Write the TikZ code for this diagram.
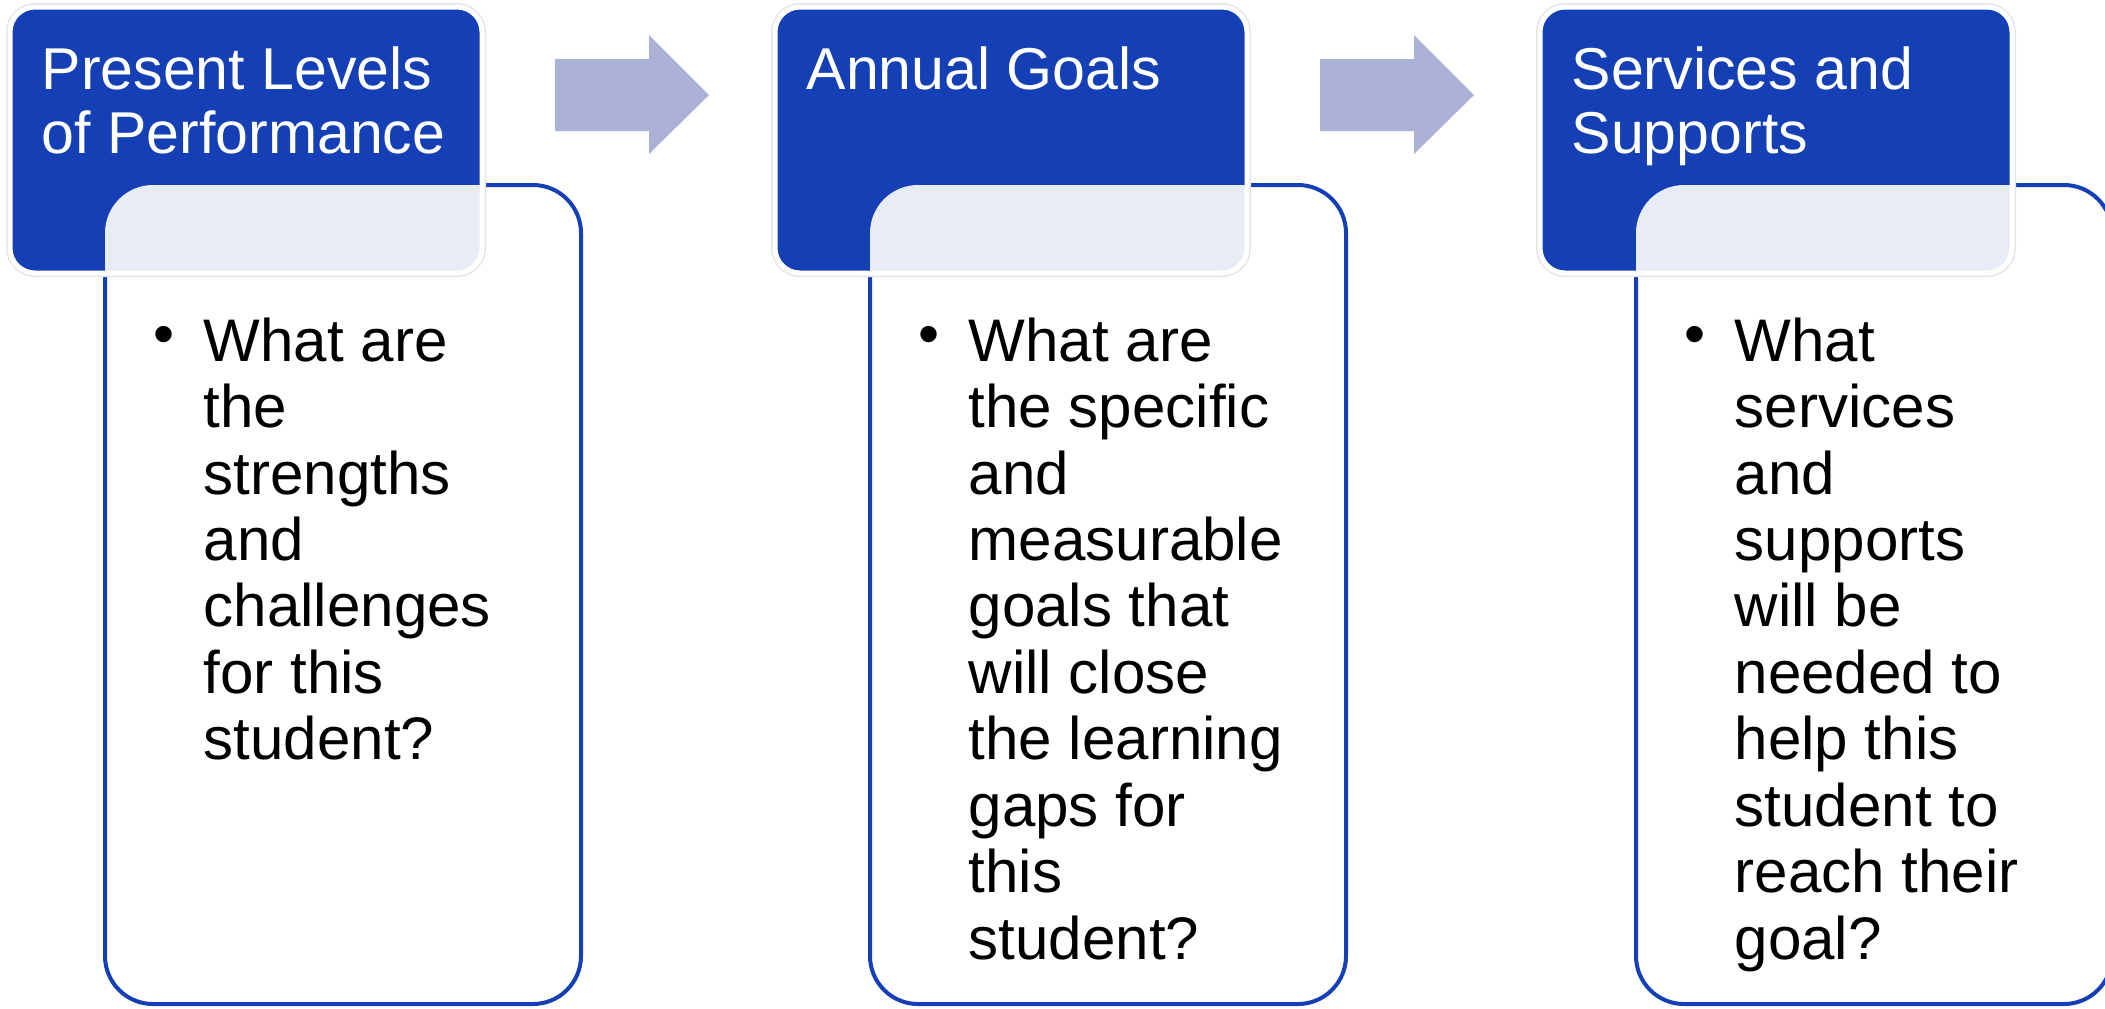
\documentclass[tikz,border=0pt]{standalone}
\usepackage{fontspec}
\setmainfont{Liberation Sans}
\definecolor{headblue}{RGB}{21,63,180}
\definecolor{arrowgray}{RGB}{170,176,214}
\newcommand{\headfont}{\fontsize{16.8pt}{18.2pt}\selectfont}
\newcommand{\bodyfont}{\fontsize{17.1pt}{18.9pt}\selectfont}

\begin{document}
\begin{tikzpicture}
    [
    x=0.1mm, y=-0.1mm,
    head/.style = {rectangle,anchor=north west,outer sep=0pt,inner sep=0pt,minimum width=47.2mm,minimum height=26.6mm,rounded corners=2.5mm,fill=headblue,draw=white,line width=0.5mm,preaction={draw=black!10,line width=0.8mm}},
    body/.style = {rectangle,anchor=north west,outer sep=0pt,inner sep=0pt,minimum width=47.6mm,minimum height=81.9mm,rounded corners=4.8mm,fill=white,draw=headblue,line width=0.4mm},
    headtext/.style = {anchor=north west,inner sep=0pt,align=left,text=white,font=\headfont},
    bodytext/.style = {anchor=north west,inner sep=0pt,align=left,font=\bodyfont},
    bullet/.style = {inner sep=0pt,font=\bodyfont},
    blockarrow/.style = {fill=arrowgray}
    ]
\useasboundingbox (0,0) rectangle (2105,1008);

\node[body] (body1) at (105,185) {};
\node[head] (head1) at (10,7) {};
\node[body] (body2) at (870,185) {};
\node[head] (head2) at (775,7) {};
\node[body] (body3) at (1636,185) {};
\node[head] (head3) at (1540,7) {};

% light part where the cards overlap
\begin{scope}
\clip[rounded corners=2.5mm] (head1.north west) rectangle (head1.south east);
\fill[white,opacity=0.9,rounded corners=4.8mm] (body1.north west) rectangle (body1.south east);
\end{scope}
\begin{scope}
\clip[rounded corners=2.5mm] (head2.north west) rectangle (head2.south east);
\fill[white,opacity=0.9,rounded corners=4.8mm] (body2.north west) rectangle (body2.south east);
\end{scope}
\begin{scope}
\clip[rounded corners=2.5mm] (head3.north west) rectangle (head3.south east);
\fill[white,opacity=0.9,rounded corners=4.8mm] (body3.north west) rectangle (body3.south east);
\end{scope}

\fill[blockarrow] (555,59) -- (649,59) -- (649,35) -- (709,95) -- (649,154) -- (649,131) -- (555,131) -- cycle;
\fill[blockarrow] (1320,59) -- (1414,59) -- (1414,35) -- (1474,95) -- (1414,154) -- (1414,131) -- (1320,131) -- cycle;

\node[headtext] (ht1) at (41,46) {Present Levels\\of Performance};
\node[headtext] (ht2) at (806,46) {Annual Goals};
\node[headtext] (ht3) at (1571,46) {Services and\\Supports};

\node[bullet] (b1) at (164,340) {\textbullet};
\node[bodytext] (bt1) at (203,317) {What are\\the\\strengths\\and\\challenges\\for this\\student?};
\node[bullet] (b2) at (929,340) {\textbullet};
\node[bodytext] (bt2) at (968,317) {What are\\the specific\\and\\measurable\\goals that\\will close\\the learning\\gaps for\\this\\student?};
\node[bullet] (b3) at (1695,340) {\textbullet};
\node[bodytext] (bt3) at (1734,317) {What\\services\\and\\supports\\will be\\needed to\\help this\\student to\\reach their\\goal?};

\end{tikzpicture}
\end{document}
